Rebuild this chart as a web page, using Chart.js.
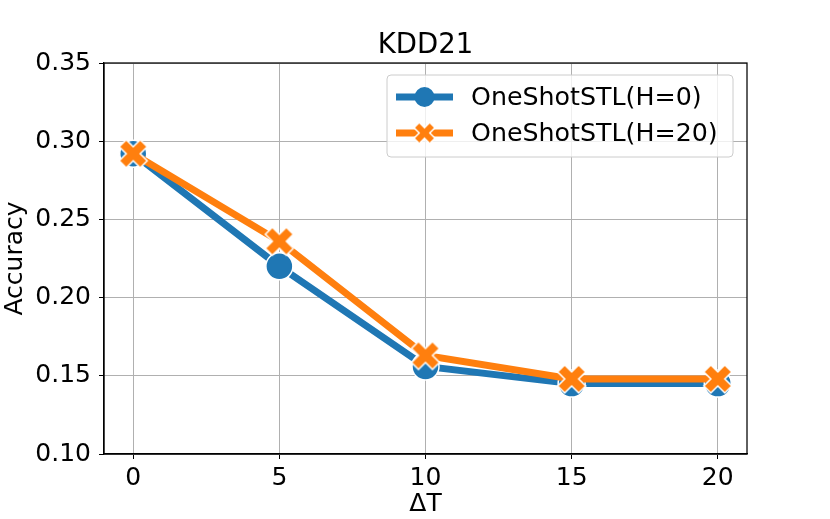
<!DOCTYPE html>
<html>
<head>
<meta charset="utf-8">
<script src="https://cdn.jsdelivr.net/npm/chart.js@4/dist/chart.umd.min.js"></script>
<style>
  html, body { margin: 0; padding: 0; background: #fff; }
  #wrap { width: 830px; height: 519px; }
</style>
</head>
<body>
<div id="wrap"><canvas id="chart" width="830" height="519"></canvas></div>
<script>
const deltaT = [0, 5, 10, 15, 20];
const accH0 = [0.292, 0.220, 0.156, 0.145, 0.145];
const accH20 = [0.292, 0.236, 0.163, 0.148, 0.148];
const xTicks = [0, 5, 10, 15, 20];
const yTicks = [0.10, 0.15, 0.20, 0.25, 0.30, 0.35];

const FONT = "'DejaVu Sans', sans-serif";
const BLUE = '#1f77b4';
const ORANGE = '#ff7f0e';

// filled X marker (matplotlib 'X') with white edge
function makeX(size, color) {
  const c = document.createElement('canvas');
  c.width = size + 4; c.height = size + 4;
  const g = c.getContext('2d');
  const L = size / 0.943, h = L / 2, w = L / 6;
  g.translate(c.width / 2, c.height / 2);
  g.rotate(Math.PI / 4);
  g.beginPath();
  g.moveTo(-w, -h); g.lineTo(w, -h); g.lineTo(w, -w); g.lineTo(h, -w);
  g.lineTo(h, w); g.lineTo(w, w); g.lineTo(w, h); g.lineTo(-w, h);
  g.lineTo(-w, w); g.lineTo(-h, w); g.lineTo(-h, -w); g.lineTo(-w, -w);
  g.closePath();
  g.fillStyle = color; g.fill();
  g.strokeStyle = '#fff'; g.lineWidth = 1.5; g.stroke();
  return c;
}
const xMarker = makeX(28, ORANGE);
const xMarkerSmall = makeX(21, ORANGE);

const frame = {
  id: 'frame',
  afterDatasetsDraw(chart) {
    const { ctx, chartArea: a } = chart;
    ctx.save();
    ctx.strokeStyle = '#000'; ctx.lineWidth = 1.25;
    ctx.strokeRect(a.left, a.top, a.right - a.left, a.bottom - a.top);
    // title
    ctx.fillStyle = '#000';
    ctx.font = '27.5px ' + FONT;
    ctx.textAlign = 'center'; ctx.textBaseline = 'alphabetic';
    ctx.fillText('KDD21', (a.left + a.right) / 2, 53);
    // legend
    const bx = 387, by = 75, bw = 346, bh = 82;
    ctx.beginPath();
    ctx.roundRect(bx, by, bw, bh, 4);
    ctx.fillStyle = 'rgba(255,255,255,0.8)'; ctx.fill();
    ctx.strokeStyle = '#cccccc'; ctx.lineWidth = 1; ctx.stroke();
    const rows = [
      { y: 97, color: BLUE, label: 'OneShotSTL(H=0)', circle: true },
      { y: 133, color: ORANGE, label: 'OneShotSTL(H=20)', circle: false },
    ];
    rows.forEach(r => {
      ctx.beginPath();
      ctx.moveTo(396, r.y); ctx.lineTo(453, r.y);
      ctx.strokeStyle = r.color; ctx.lineWidth = 7; ctx.stroke();
      if (r.circle) {
        ctx.beginPath(); ctx.arc(424.5, r.y, 10, 0, Math.PI * 2);
        ctx.fillStyle = r.color; ctx.fill();
      } else {
        ctx.drawImage(xMarkerSmall, 424.5 - xMarkerSmall.width / 2, r.y - xMarkerSmall.height / 2);
      }
      ctx.fillStyle = '#000';
      ctx.font = '25.3px ' + FONT;
      ctx.textAlign = 'left'; ctx.textBaseline = 'middle';
      ctx.fillText(r.label, 471, r.y + 1);
    });
    ctx.restore();
  }
};

new Chart(document.getElementById('chart'), {
  type: 'line',
  data: {
    datasets: [
      {
        label: 'OneShotSTL(H=0)',
        data: deltaT.map((x, i) => ({ x, y: accH0[i] })),
        borderColor: BLUE, backgroundColor: BLUE,
        borderWidth: 7, pointRadius: 13.5, pointStyle: 'circle',
        pointBorderColor: '#fff', pointBorderWidth: 1.5,
        order: 1,
      },
      {
        label: 'OneShotSTL(H=20)',
        data: deltaT.map((x, i) => ({ x, y: accH20[i] })),
        borderColor: ORANGE, backgroundColor: ORANGE,
        borderWidth: 7, pointStyle: xMarker, pointRadius: 14,
        order: 0,
      },
    ],
  },
  options: {
    responsive: false,
    animation: false,
    layout: { padding: { left: 0, right: 83, top: 63, bottom: 0 } },
    plugins: { legend: { display: false }, title: { display: false }, tooltip: { enabled: false } },
    scales: {
      x: {
        type: 'linear', min: -1, max: 21,
        afterBuildTicks: (s) => { s.ticks = xTicks.map(v => ({ value: v })); },
        afterFit: (s) => { s.height = 65; },
        grid: { color: '#b0b0b0', lineWidth: 1, tickLength: 5, tickColor: '#000' },
        border: { color: '#000', width: 1.25 },
        ticks: { color: '#000', font: { family: FONT, size: 25 }, padding: 4, maxRotation: 0 },
        title: { display: true, text: 'ΔT', color: '#000', font: { family: FONT, size: 25 }, padding: { top: 0, bottom: 0 } },
      },
      y: {
        type: 'linear', min: 0.10, max: 0.35,
        afterBuildTicks: (s) => { s.ticks = yTicks.map(v => ({ value: v })); },
        afterFit: (s) => { s.width = 104; },
        grid: { color: '#b0b0b0', lineWidth: 1, tickLength: 5, tickColor: '#000' },
        border: { color: '#000', width: 1.25 },
        ticks: { color: '#000', font: { family: FONT, size: 25 }, padding: 8, callback: (v) => Number(v).toFixed(2) },
        title: { display: true, text: 'Accuracy', color: '#000', font: { family: FONT, size: 25 }, padding: { top: 0, bottom: 2 } },
      },
    },
  },
  plugins: [frame],
});
</script>
</body>
</html>
